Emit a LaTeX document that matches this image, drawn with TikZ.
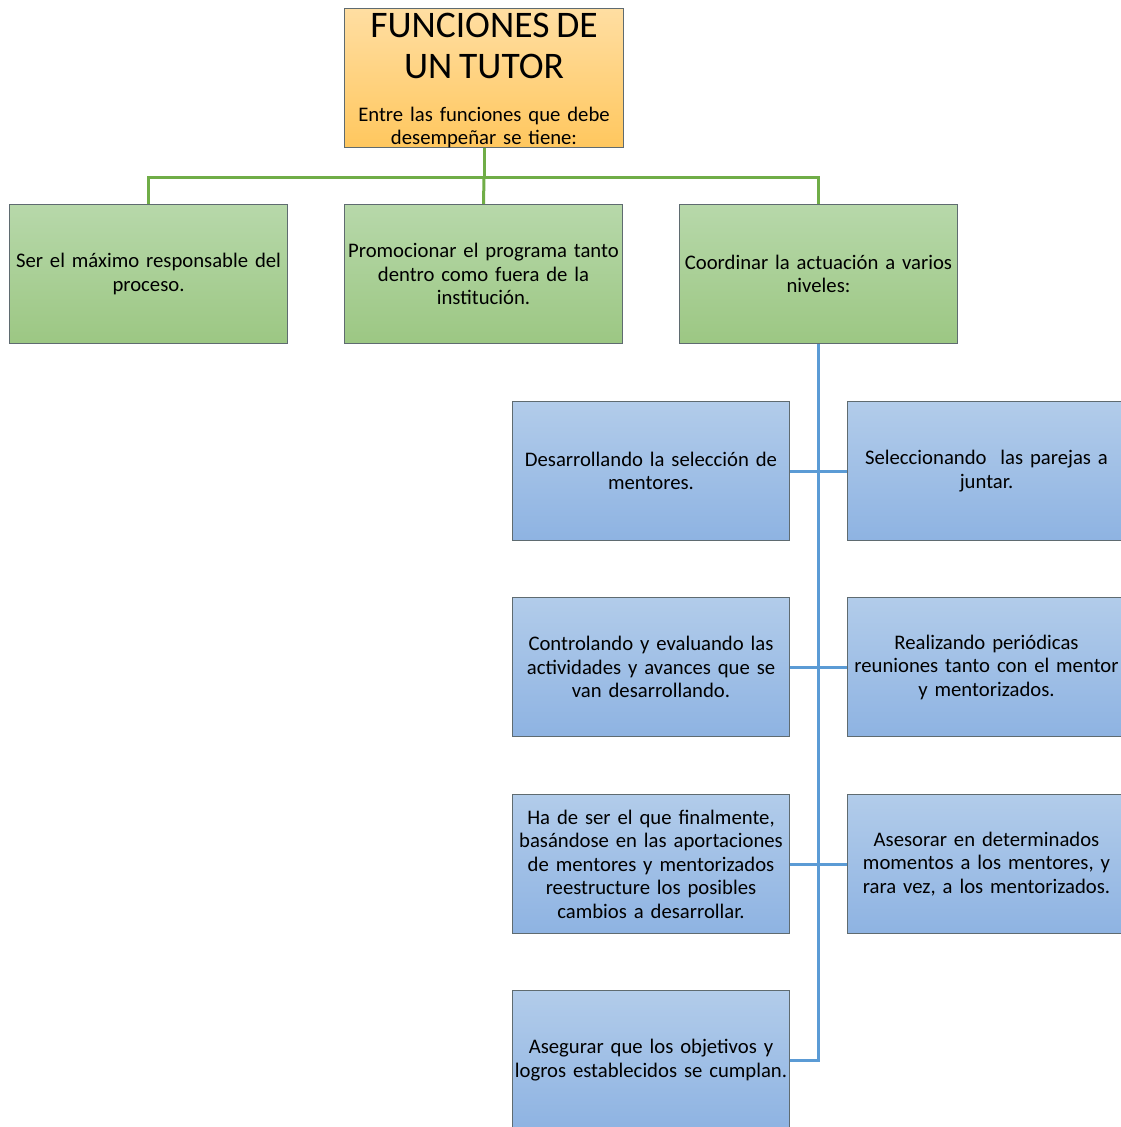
\documentclass[tikz,border=0pt]{standalone}
\usepackage{fontspec}
\setmainfont{Carlito}
\definecolor{orTop}{HTML}{FFDEA2}
\definecolor{orBot}{HTML}{FFC75E}
\definecolor{grTop}{HTML}{B7D8AA}
\definecolor{grBot}{HTML}{9CC783}
\definecolor{blTop}{HTML}{B2CCEA}
\definecolor{blBot}{HTML}{8EB3E2}
\definecolor{bordc}{HTML}{5F6B70}
\definecolor{gline}{HTML}{70AD47}
\definecolor{bline}{HTML}{5B9BD5}
\begin{document}
\begin{tikzpicture}[x=1pt,y=-1pt,
  box/.style={draw=bordc, line width=1pt, minimum width=278pt, minimum height=139pt,
    inner sep=0pt, anchor=north west, align=center, text width=278pt,
    font=\fontsize{20.7}{23.5}\selectfont},
  greenbox/.style={box, top color=grTop, bottom color=grBot},
  bluebox/.style={box, top color=blTop, bottom color=blBot},
  titletext/.style={inner sep=0pt, anchor=north, align=center, text width=279pt,
    font=\fontsize{20.7}{23.5}\selectfont},
  glink/.style={draw=gline, line width=3pt},
  blink/.style={draw=bline, line width=3pt}]
\useasboundingbox (0,0) rectangle (1121,1127);
\fill[white] (0,0) rectangle (1121,1127);
\clip (0,0) rectangle (1121,1127);
% title
\node[box, top color=orTop, bottom color=orBot, minimum width=279pt, text width=279pt] (title) at (344,8) {};
\node[titletext] (titlet) at ([yshift=-5pt]title.north)
  {{\fontsize{37.5}{41}\selectfont FUNCIONES DE\\UN TUTOR\par}\vspace{19pt}%
   Entre las funciones que debe\\desempeñar se tiene:};
% green
\node[greenbox] (g1) at (9,204) {Ser el máximo responsable del\\proceso.};
\node[greenbox] (g2) at (344,204) {Promocionar el programa tanto\\dentro como fuera de la\\institución.};
\node[greenbox] (g3) at (679,204) {Coordinar la actuación a varios\\niveles:};
% blue
\node[bluebox, minimum width=277pt, text width=277pt] (b1) at (512,401) {Desarrollando la selección de\\mentores.};
\node[bluebox] (b2) at (847,401) {Seleccionando\ \ las parejas a\\juntar.};
\node[bluebox, minimum width=277pt, text width=277pt] (b3) at (512,597) {Controlando y evaluando las\\actividades y avances que se\\van desarrollando.};
\node[bluebox] (b4) at (847,597) {Realizando periódicas\\reuniones tanto con el mentor\\y mentorizados.};
\node[bluebox, minimum width=277pt, text width=277pt] (b5) at (512,794) {Ha de ser el que finalmente,\\basándose en las aportaciones\\de mentores y mentorizados\\reestructure los posibles\\cambios a desarrollar.};
\node[bluebox] (b6) at (847,794) {Asesorar en determinados\\momentos a los mentores, y\\rara vez, a los mentorizados.};
\node[bluebox, minimum width=277pt, text width=277pt] (b7) at (512,990) {Asegurar que los objetivos y\\logros establecidos se cumplan.};
% green connectors
\draw[glink] (title.south) -- ++(0,29) coordinate (gj);
\draw[glink] (g1.north) |- (gj) -| (g3.north);
\draw[glink] (gj) -- (g2.north);
% blue connectors
\draw[blink] (g3.south) -- (g3.south |- b7.east) -- (b7.east);
\draw[blink] (b1.east) -- (b2.west);
\draw[blink] (b3.east) -- (b4.west);
\draw[blink] (b5.east) -- (b6.west);
\end{tikzpicture}
\end{document}
